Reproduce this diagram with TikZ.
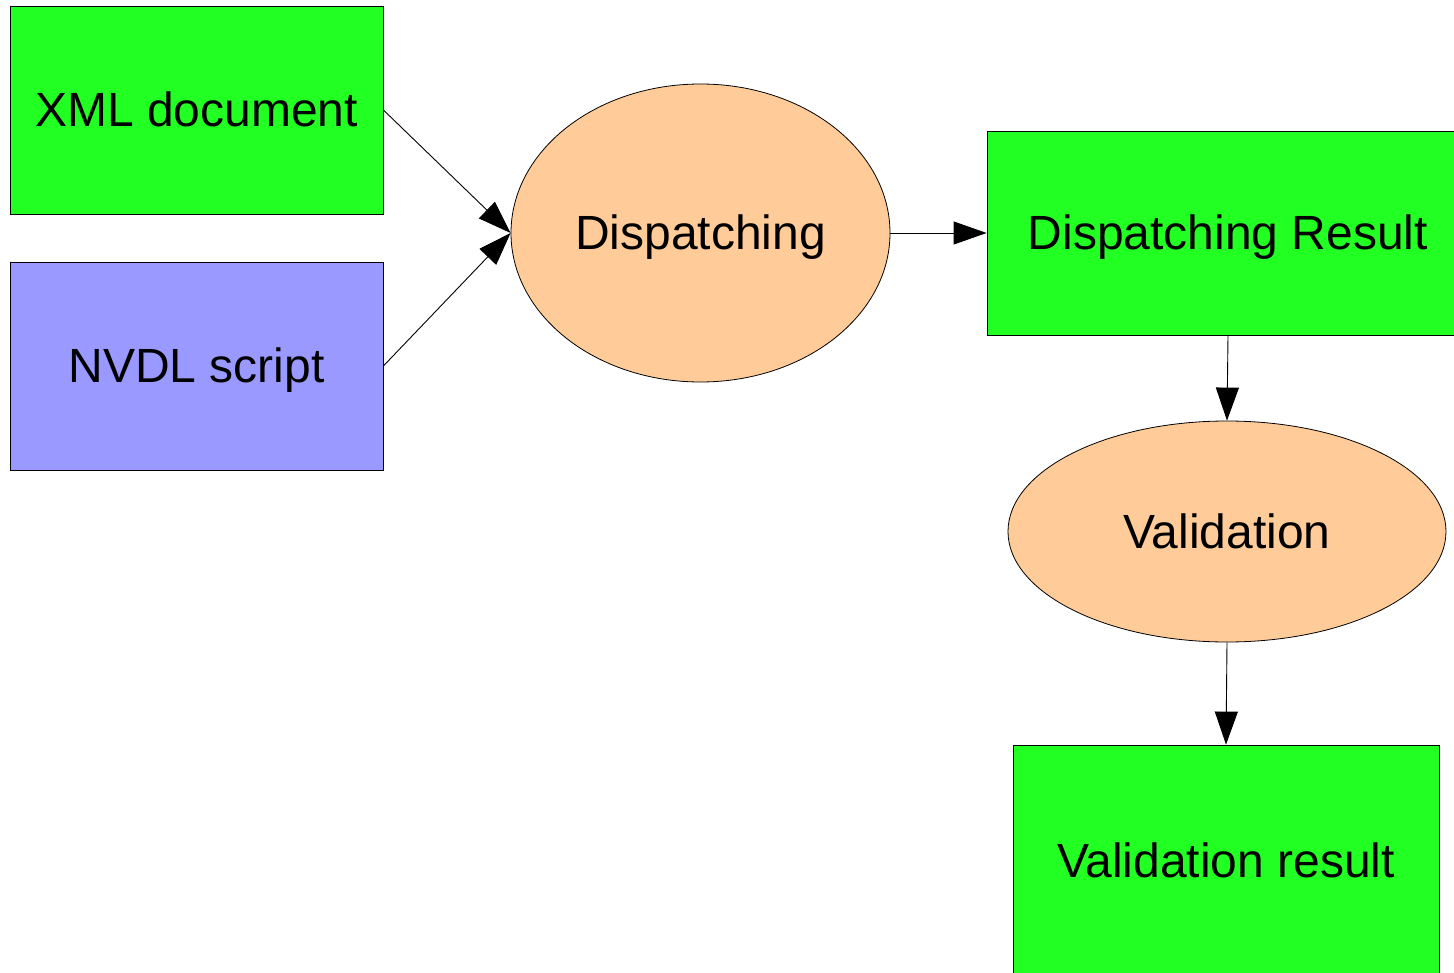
\documentclass[tikz,border=0pt]{standalone}
\usepackage{fontspec}
\setmainfont{Liberation Sans}
\usetikzlibrary{shapes.geometric,arrows.meta}
\definecolor{boxgreen}{RGB}{34,255,34}
\definecolor{boxblue}{RGB}{153,153,255}
\definecolor{procpeach}{RGB}{255,204,153}
\tikzset{
  labeltext/.style={font=\fontsize{48}{58}\selectfont, text height=43pt, text depth=10pt},
  databox/.style={draw=black, line width=0.8pt, rectangle, inner sep=0pt, labeltext},
  procnode/.style={draw=black, line width=0.8pt, ellipse, inner sep=0pt,
    fill=procpeach, labeltext},
  flow/.style={draw=black, line width=0.9pt, -{Triangle[length=33pt,width=23pt]}}
}
\begin{document}
\begin{tikzpicture}[x=1pt,y=-1pt]
\clip (0,0) rectangle (1454,973);
\fill[white] (0,0) rectangle (1454,973);

\node[databox, fill=boxgreen, minimum width=373pt, minimum height=208pt] (xml) at (196.5,110) {XML document};
\node[databox, fill=boxblue, minimum width=373pt, minimum height=208pt] (nvdl) at (196.5,366) {NVDL script};
\node[procnode, minimum width=379pt, minimum height=298pt] (disp) at (700.5,233) {Dispatching};
\node[databox, fill=boxgreen, minimum width=482pt, minimum height=204pt] (dres) at (1228,233) {Dispatching Result};
\node[procnode, minimum width=438pt, minimum height=221pt] (val) at (1227,531.5) {Validation};
\node[databox, fill=boxgreen, minimum width=426pt, minimum height=232pt] (vres) at (1226,861) {Validation result};

\draw[flow] (xml.east) -- (disp.west);
\draw[flow] (nvdl.east) -- (disp.west);
\draw[flow] (disp.east) -- (dres.west);
\draw[flow] (dres.south) -- (val.north);
\draw[flow] (val.south) -- (vres.north);
\end{tikzpicture}
\end{document}
